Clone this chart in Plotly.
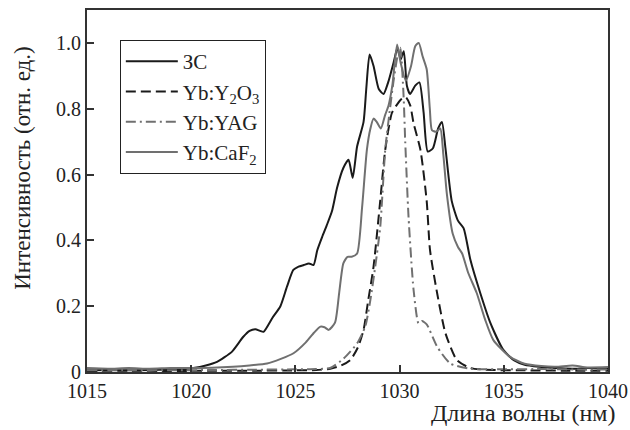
import plotly.graph_objects as go

# Seed signal (ЗС)
seed_x = [1015, 1016, 1017, 1018, 1019, 1019.6, 1020.1, 1020.7, 1021.24, 1021.6, 1021.96, 1022.5, 1022.8,
          1023.08, 1023.3, 1023.47, 1023.9, 1024.28, 1024.6, 1024.9, 1025.15, 1025.4, 1025.65, 1025.87,
          1026.05, 1026.28, 1026.5, 1026.76, 1027.0, 1027.3, 1027.55, 1027.75, 1027.96, 1028.27, 1028.4,
          1028.56, 1028.75, 1029.0, 1029.23, 1029.45, 1029.71, 1029.9, 1030.05, 1030.2, 1030.35, 1030.5,
          1030.75, 1030.95, 1031.15, 1031.35, 1031.6, 1031.85, 1032.03, 1032.2, 1032.5, 1032.8, 1033.07,
          1033.4, 1033.87, 1034.35, 1034.98, 1035.5, 1036, 1036.7, 1037.5, 1038.3, 1039, 1040]
seed_y = [0.005, 0.006, 0.005, 0.006, 0.007, 0.008, 0.012, 0.02, 0.031, 0.045, 0.062, 0.107, 0.125,
          0.13, 0.125, 0.122, 0.165, 0.2, 0.26, 0.31, 0.32, 0.325, 0.33, 0.325,
          0.37, 0.41, 0.445, 0.49, 0.56, 0.62, 0.645, 0.59, 0.685, 0.76, 0.86,
          0.965, 0.93, 0.86, 0.845, 0.88, 0.94, 0.985, 0.95, 0.975, 0.87, 0.845,
          0.87, 0.88, 0.79, 0.67, 0.68, 0.74, 0.76, 0.68, 0.52, 0.46, 0.437,
          0.34, 0.24, 0.15, 0.067, 0.035, 0.022, 0.016, 0.012, 0.01, 0.012, 0.01]

# Yb:Y2O3
y2o3_x = [1015, 1017, 1019, 1021, 1023, 1025, 1026, 1026.67, 1027.2, 1027.63, 1028.0, 1028.27, 1028.5,
          1028.75, 1029.07, 1029.31, 1029.63, 1029.9, 1030.1, 1030.3, 1030.51, 1030.67, 1031.0, 1031.3,
          1031.46, 1031.8, 1032.2, 1032.75, 1033.4, 1034.5, 1036, 1038, 1040]
y2o3_y = [0.003, 0.004, 0.003, 0.004, 0.004, 0.005, 0.006, 0.01, 0.02, 0.036, 0.075, 0.128, 0.22,
          0.32, 0.52, 0.675, 0.787, 0.815, 0.83, 0.835, 0.81, 0.756, 0.675, 0.52,
          0.37, 0.24, 0.118, 0.036, 0.012, 0.006, 0.005, 0.004, 0.004]

# Yb:YAG
yag_x = [1015, 1017, 1019, 1021, 1023, 1025, 1026, 1026.67, 1027.3, 1027.96, 1028.35, 1028.6, 1028.83,
         1029.07, 1029.31, 1029.5, 1029.7, 1029.9, 1030.03, 1030.19, 1030.27, 1030.43, 1030.67, 1030.91,
         1031.07, 1031.3, 1031.8, 1032.43, 1033.4, 1035, 1037, 1039, 1040]
yag_y = [0.005, 0.006, 0.005, 0.006, 0.007, 0.008, 0.009, 0.012, 0.04, 0.087, 0.138, 0.22, 0.32,
         0.44, 0.675, 0.78, 0.88, 0.96, 0.985, 0.84, 0.7, 0.47, 0.25, 0.148,
         0.155, 0.145, 0.077, 0.026, 0.01, 0.008, 0.009, 0.007, 0.008]

# Yb:CaF2
caf2_x = [1015, 1016, 1017, 1018, 1019, 1020, 1021, 1022, 1022.8, 1023.64, 1024.3, 1024.91, 1025.5,
          1025.9, 1026.2, 1026.4, 1026.6, 1026.9, 1027.1, 1027.3, 1027.5, 1027.7, 1027.96, 1028.2,
          1028.43, 1028.6, 1028.75, 1028.9, 1029.1, 1029.3, 1029.47, 1029.65, 1029.88, 1030.05, 1030.3,
          1030.55, 1030.75, 1030.92, 1031.1, 1031.3, 1031.45, 1031.55, 1031.75, 1031.95, 1032.1, 1032.27,
          1032.55, 1032.8, 1033.0, 1033.3, 1033.7, 1034.1, 1034.5, 1035.3, 1036, 1036.8, 1037.5, 1038.3,
          1039, 1040]
caf2_y = [0.012, 0.01, 0.012, 0.01, 0.012, 0.012, 0.013, 0.016, 0.02, 0.026, 0.04, 0.057, 0.09,
          0.12, 0.138, 0.136, 0.128, 0.15, 0.24, 0.33, 0.35, 0.35, 0.36, 0.5,
          0.675, 0.74, 0.77, 0.76, 0.74, 0.78, 0.81, 0.87, 0.995, 0.94, 0.885,
          0.93, 0.99, 1.0, 0.96, 0.92, 0.8, 0.735, 0.73, 0.74, 0.66, 0.54,
          0.42, 0.38, 0.36, 0.3, 0.24, 0.16, 0.097, 0.046, 0.025, 0.018, 0.016, 0.02,
          0.014, 0.015]

x_ticks = [1015, 1020, 1025, 1030, 1035, 1040]
y_ticks = [0, 0.2, 0.4, 0.6, 0.8, 1.0]
y_tick_labels = ["0", "0.2", "0.4", "0.6", "0.8", "1.0"]

BLACK = "#1a1a1a"
GRAY = "#707070"
FONT = "Times New Roman, Liberation Serif, serif"

fig = go.Figure()
series = [
    ("ЗС", seed_x, seed_y, BLACK, "solid"),
    ("Yb:Y<sub>2</sub>O<sub>3</sub>", y2o3_x, y2o3_y, BLACK, "10px,5px"),
    ("Yb:YAG", yag_x, yag_y, GRAY, "10px,4px,2px,4px"),
    ("Yb:CaF<sub>2</sub>", caf2_x, caf2_y, GRAY, "solid"),
]
for i, (name, xs, ys, col, dash) in enumerate(series):
    fig.add_trace(go.Scatter(
        x=xs, y=ys, mode="lines", name=name, legendgroup=f"g{i}",
        line=dict(color=col, width=2, dash=dash, shape="spline", smoothing=0.6),
    ))

fig.update_layout(
    width=630, height=430,
    margin=dict(l=87, r=22, t=10, b=58, autoexpand=False),
    paper_bgcolor="white", plot_bgcolor="white",
    font=dict(family=FONT, size=20, color="#222"),
    showlegend=True,
    legend=dict(
        x=0.063, y=0.917, xanchor="left", yanchor="top",
        bordercolor="#222", borderwidth=1, bgcolor="white",
        font=dict(family=FONT, size=21, color="#222"),
        tracegroupgap=0, itemwidth=52,
    ),
    xaxis=dict(
        range=[1015, 1040], tickvals=x_ticks, ticktext=[str(v) for v in x_ticks],
        ticks="inside", ticklen=7, tickwidth=1.5, tickcolor="#333",
        showline=True, linecolor="#333", linewidth=2, mirror=True,
        showgrid=False, zeroline=False, automargin=False,
        tickfont=dict(family=FONT, size=20, color="#222"),
    ),
    yaxis=dict(
        range=[0, 1.1], tickvals=y_ticks, ticktext=y_tick_labels,
        ticks="inside", ticklen=7, tickwidth=1.5, tickcolor="#333",
        showline=True, linecolor="#333", linewidth=2, mirror=True,
        showgrid=False, zeroline=False, automargin=False,
        tickfont=dict(family=FONT, size=20, color="#222"),
    ),
    annotations=[
        dict(text="Интенсивность (отн. ед.)", xref="paper", yref="paper",
             x=-0.123, y=0.564, xanchor="center", yanchor="middle", textangle=-90,
             showarrow=False, font=dict(family=FONT, size=23, color="#222")),
        dict(text="Длина волны (нм)", xref="paper", yref="paper",
             x=1.019, y=-0.113, xanchor="right", yanchor="middle",
             showarrow=False, font=dict(family=FONT, size=24, color="#222")),
    ],
)

fig.write_html(
    "out.html",
    config={"displayModeBar": False},
    post_script="document.body.style.margin='0';document.body.style.overflow='hidden';",
)
